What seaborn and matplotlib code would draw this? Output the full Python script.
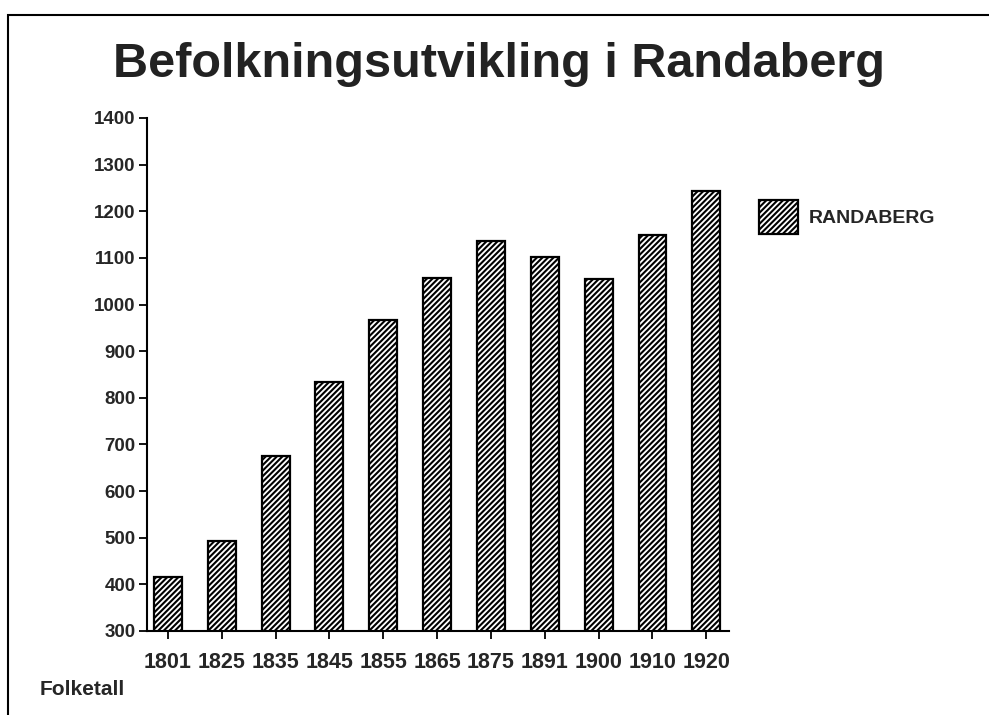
"""Befolkningsutvikling i Randaberg - bar chart recreation."""

import matplotlib

matplotlib.use("Agg")

import matplotlib.pyplot as plt
import pandas as pd
import seaborn as sns
from matplotlib.patches import Patch, Rectangle

years = ["1801", "1825", "1835", "1845", "1855", "1865", "1875", "1891", "1900", "1910", "1920"]
population = [415, 493, 675, 833, 966, 1057, 1136, 1102, 1054, 1149, 1243]
y_ticks = [300, 400, 500, 600, 700, 800, 900, 1000, 1100, 1200, 1300, 1400]
series_name = "RANDABERG"

sns.set_theme(style="white")
plt.rcParams["font.family"] = ["Liberation Sans", "DejaVu Sans"]
plt.rcParams["hatch.linewidth"] = 1.5

data = pd.DataFrame({"year": years, "population": population})

fig = plt.figure(figsize=(9.89, 7.15), dpi=100)
ax = fig.add_axes([0.1486, 0.1175, 0.589, 0.7175])

sns.barplot(data=data, x="year", y="population", color="white",
            edgecolor="black", linewidth=1.6, width=0.52, ax=ax)
for bar in ax.patches:
    bar.set_hatch("//////")

ax.set_ylim(300, 1400)
ax.set_xlim(-0.39, 10.43)
ax.set_yticks(y_ticks)
ax.set_yticklabels([str(t) for t in y_ticks], fontweight="bold", fontsize=13.5)
ax.set_xticks(range(len(years)))
ax.set_xticklabels(years, fontweight="bold", fontsize=15.5)
ax.set_xlabel("")
ax.set_ylabel("")
sns.despine(ax=ax)
for side in ["left", "bottom"]:
    ax.spines[side].set_color("black")
    ax.spines[side].set_linewidth(1.5)
ax.tick_params(axis="both", which="both", length=6, width=1.3, color="black",
               direction="out", left=True, bottom=True)
ax.tick_params(axis="x", pad=9)
ax.tick_params(axis="y", pad=2)

fig.text(0.505, 0.91, "Befolkningsutvikling i Randaberg", ha="center", va="center",
         fontsize=35, fontweight="bold", color="#222222")
fig.text(0.04, 0.035, "Folketall", ha="left", va="center", fontsize=15,
         fontweight="bold")

handle = Patch(facecolor="white", edgecolor="black", hatch="//////", linewidth=1.6)
fig.legend([handle], [series_name], loc="center left", bbox_to_anchor=(0.75, 0.697),
           frameon=False, prop={"weight": "bold", "size": 14}, handlelength=2.0,
           handleheight=2.3, handletextpad=0.55)

# border of the scanned page
fig.patches.append(Rectangle((8 / 989, -0.1), 1.2, 1.1 - 15 / 715, transform=fig.transFigure,
                             fill=False, edgecolor="black", linewidth=1.5))

fig.savefig("out.png", dpi=100)
